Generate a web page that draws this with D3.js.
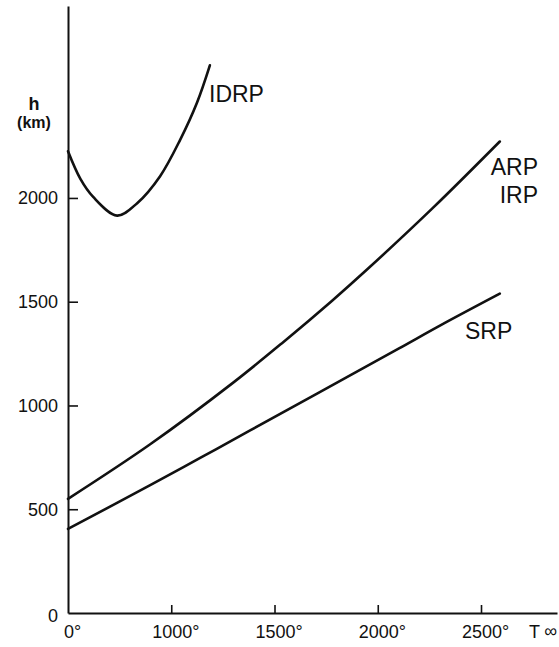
<!DOCTYPE html>
<html>
<head>
<meta charset="utf-8">
<script src="https://cdn.jsdelivr.net/npm/d3@7"></script>
<style>
  body { margin: 0; background: #fff; }
  text { font-family: "Liberation Sans", Arial, sans-serif; fill: #111; }
</style>
</head>
<body>
<div id="chart"></div>
<script>
// values (T in deg, h in km)
var idrpT = [500, 560, 622, 738, 835, 946, 1043, 1125, 1187];
var idrpH = [2225, 2092, 2005, 1915, 1975, 2105, 2280, 2460, 2639];

var arpT = [500, 898, 1300, 1542, 1779, 1948, 2267, 2591];
var arpH = [550, 813, 1110, 1305, 1505, 1655, 1952, 2272];

var srpT = [500, 898, 1140, 1382, 1706, 2103, 2301, 2591];
var srpH = [405, 616, 747, 880, 1057, 1275, 1385, 1539];

var xTicks = [500, 1000, 1500, 2000, 2500];
var xTickLabels = ["0°", "1000°", "1500°", "2000°", "2500°"];
var yTicks = [0, 500, 1000, 1500, 2000];
var yTickLabels = ["0", "500", "1000", "1500", "2000"];

var svgWidth = 559;
var svgHeight = 647;

var svg = d3.select("#chart")
    .append("svg")
    .attr("width", svgWidth)
    .attr("height", svgHeight);

// scales: origin sits at (68, 613)
var x = d3.scaleLinear()
    .domain([500, 2868])
    .range([68, 557]);

var y = d3.scaleLinear()
    .domain([0, 2925])
    .range([613, 6]);

// axes, ticks pointing inward
var bottomAxis = d3.axisBottom(x)
    .tickValues(xTicks)
    .tickSize(-8)
    .tickSizeOuter(0)
    .tickPadding(12)
    .tickFormat(function(d, i) { return xTickLabels[i]; });

var leftAxis = d3.axisLeft(y)
    .tickValues(yTicks)
    .tickSize(-10)
    .tickSizeOuter(0)
    .tickPadding(10)
    .tickFormat(function(d, i) { return yTickLabels[i]; });

var gx = svg.append("g")
    .attr("transform", "translate(0," + y(0) + ")")
    .call(bottomAxis);

var gy = svg.append("g")
    .attr("transform", "translate(" + x(500) + ",0)")
    .call(leftAxis);

[gx, gy].forEach(function(g) {
  g.select(".domain").attr("stroke", "#111").attr("stroke-width", 2);
  g.selectAll(".tick line").attr("stroke", "#111").attr("stroke-width", 1.6);
  g.selectAll(".tick text")
    .attr("font-size", 18)
    .attr("font-family", "Liberation Sans, Arial, sans-serif")
    .attr("fill", "#111");
});
// no tick mark at the origin
gx.selectAll(".tick").filter(function(d) { return d === 500; }).select("line").remove();
gy.selectAll(".tick").filter(function(d) { return d === 0; }).select("line").remove();
gx.selectAll(".tick text").attr("dx", 4);
gy.selectAll(".tick").filter(function(d) { return d === 0; }).select("text").attr("dy", "0.45em");

// curves
var line = d3.line()
    .x(function(d) { return x(d[0]); })
    .y(function(d) { return y(d[1]); })
    .curve(d3.curveCatmullRom.alpha(0.5));

var series = [
  d3.zip(idrpT, idrpH),
  d3.zip(arpT, arpH),
  d3.zip(srpT, srpH)
];

svg.selectAll(".curve")
    .data(series)
    .enter()
    .append("path")
    .attr("class", "curve")
    .attr("d", line)
    .attr("fill", "none")
    .attr("stroke", "#111")
    .attr("stroke-width", 2.6)
    .attr("stroke-linecap", "round");

// curve labels
svg.append("text").attr("x", 209).attr("y", 102).attr("font-size", 23).text("IDRP");
svg.append("text").attr("x", 538).attr("y", 175).attr("font-size", 23).attr("text-anchor", "end").text("ARP");
svg.append("text").attr("x", 538).attr("y", 203).attr("font-size", 23).attr("text-anchor", "end").text("IRP");
svg.append("text").attr("x", 465).attr("y", 339).attr("font-size", 23).text("SRP");

// axis titles
svg.append("text").attr("x", 34).attr("y", 110).attr("font-size", 18)
    .attr("font-weight", "bold").attr("text-anchor", "middle").text("h");
svg.append("text").attr("x", 34).attr("y", 128).attr("font-size", 16)
    .attr("font-weight", "bold").attr("text-anchor", "middle").text("(km)");
svg.append("text").attr("x", 529).attr("y", 638).attr("font-size", 18).text("T");
svg.append("text").attr("x", 557).attr("y", 637).attr("font-size", 18)
    .attr("font-family", "DejaVu Sans, sans-serif")
    .attr("text-anchor", "end").text("∞");
</script>
</body>
</html>
